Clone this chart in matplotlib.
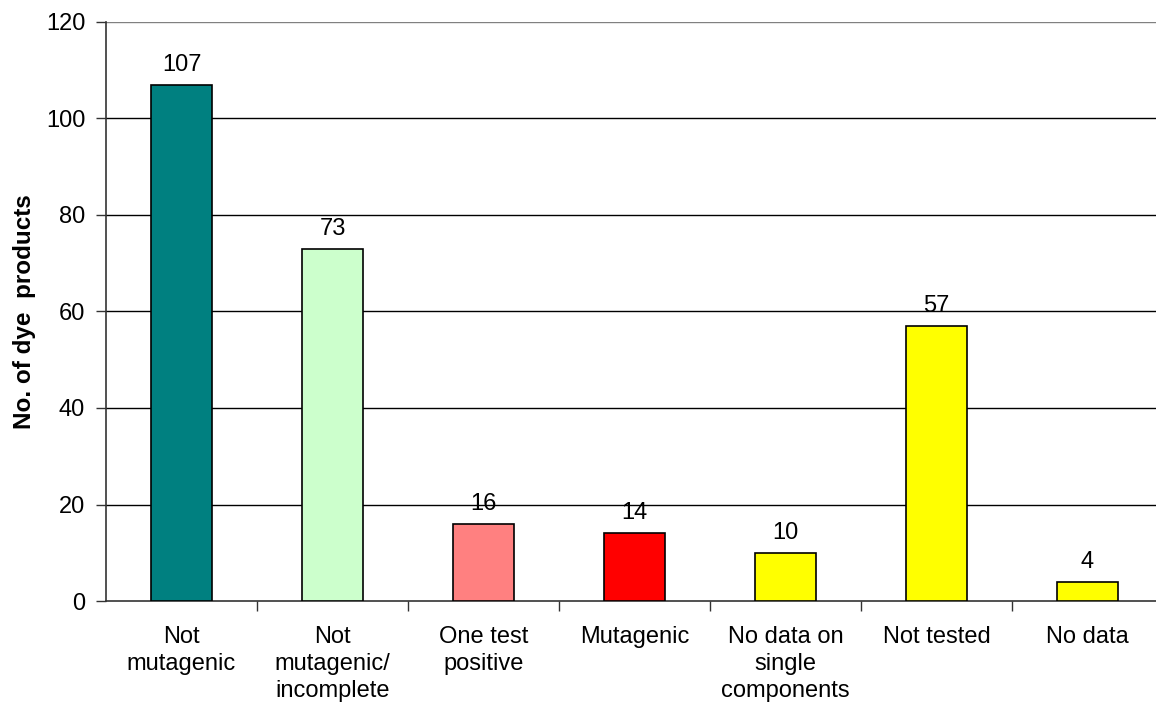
import matplotlib
matplotlib.use("Agg")
import matplotlib.pyplot as plt

categories = ["Not\nmutagenic", "Not\nmutagenic/\nincomplete", "One test\npositive",
              "Mutagenic", "No data on\nsingle\ncomponents", "Not tested", "No data"]
counts = [107, 73, 16, 14, 10, 57, 4]
colors = ["#008080", "#CCFFCC", "#FF8080", "#FF0000", "#FFFF00", "#FFFF00", "#FFFF00"]
yticks = [0, 20, 40, 60, 80, 100, 120]

plt.rcParams["font.family"] = ["Liberation Sans", "DejaVu Sans"]
FS = 17

W, H = 1156, 703
fig = plt.figure(figsize=(W / 100, H / 100), dpi=100)
left, right, top, bottom = 106, 1163, 22, 601
ax = fig.add_axes([left / W, 1 - bottom / H, (right - left) / W, (bottom - top) / H])

x = list(range(len(counts)))
ax.bar(x, counts, width=0.4, color=colors, edgecolor="black", linewidth=1.2, zorder=3)
for xi, v in zip(x, counts):
    ax.text(xi, v + 1.9, str(v), ha="center", va="bottom", fontsize=FS)

ax.set_xlim(-0.5, len(counts) - 0.5)
ax.set_ylim(0, 120)
ax.set_yticks(yticks)
ax.set_yticklabels([str(t) for t in yticks], fontsize=FS)
for t in yticks[1:]:
    ax.axhline(t, color="#808080" if t == 120 else "black", linewidth=1.0, zorder=1)

# category separators as minor ticks; labels centered on bars
ax.set_xticks([i + 0.5 for i in range(len(counts) - 1)], minor=True)
ax.set_xticks(x)
ax.set_xticklabels(categories, fontsize=FS, linespacing=1.3, va="top")
ax.tick_params(axis="x", which="major", length=0, pad=18)
ax.tick_params(axis="x", which="minor", length=7, width=1, color="#333333", direction="out")
ax.tick_params(axis="y", length=7, width=1, color="#333333", direction="out", pad=8)

for s in ["top", "right"]:
    ax.spines[s].set_visible(False)
for s in ["left", "bottom"]:
    ax.spines[s].set_color("#333333")
    ax.spines[s].set_linewidth(1.2)

ax.set_ylabel("No. of dye  products", fontsize=17.5, fontweight="bold")
ax.yaxis.set_label_coords(-(left - 25) / (right - left), 0.5)
ax.yaxis.label.set_va("center")

fig.savefig("out.png", dpi=100, facecolor="white")
